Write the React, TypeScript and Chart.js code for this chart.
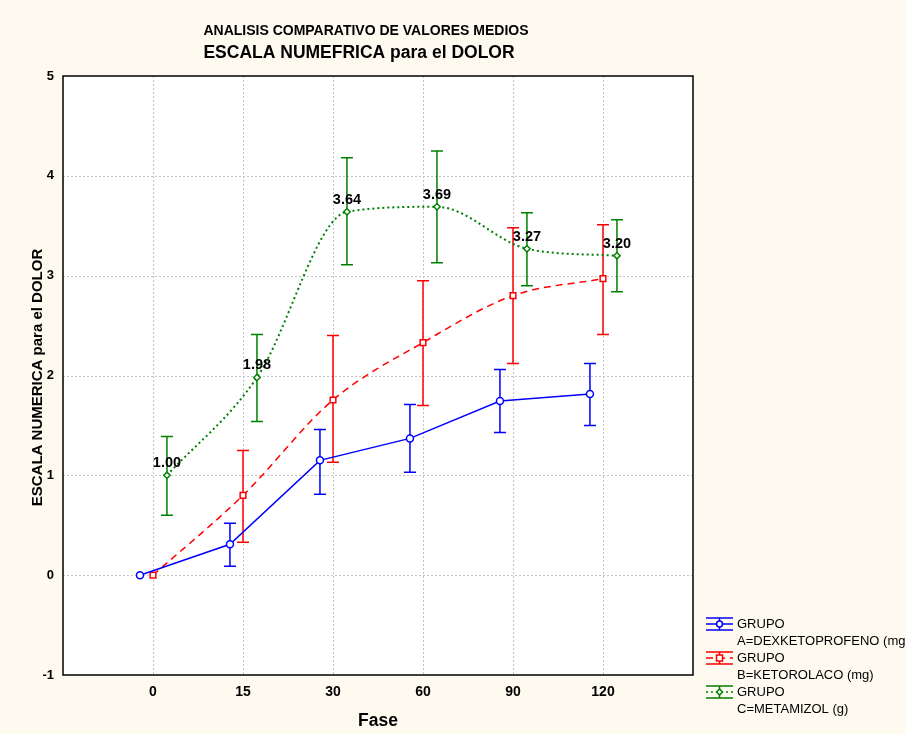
import React, { useEffect, useRef } from "react";
import { Chart, registerables } from "chart.js";

Chart.register(...registerables);

const categories = ["0", "15", "30", "60", "90", "120"];
const groupNames = ["GRUPO", "GRUPO", "GRUPO"];
const groupSubs = ["A=DEXKETOPROFENO (mg", "B=KETOROLACO (mg)", "C=METAMIZOL (g)"];

const meanA = [0, 0.31, 1.15, 1.37, 1.745, 1.815];
const lowA = [0, 0.09, 0.81, 1.03, 1.43, 1.5];
const highA = [0, 0.52, 1.46, 1.71, 2.06, 2.12];

const meanB = [0, 0.8, 1.755, 2.33, 2.8, 2.97];
const lowB = [0, 0.33, 1.13, 1.7, 2.12, 2.41];
const highB = [0, 1.25, 2.4, 2.95, 3.48, 3.51];

const meanC = [1.0, 1.98, 3.64, 3.69, 3.27, 3.2];
const lowC = [0.6, 1.54, 3.11, 3.13, 2.9, 2.84];
const highC = [1.39, 2.41, 4.18, 4.25, 3.63, 3.56];

const labelsC = ["1.00", "1.98", "3.64", "3.69", "3.27", "3.20"];

const yTicks = [-1, 0, 1, 2, 3, 4, 5];

const FONT = "'Liberation Sans', Arial, sans-serif";
const BLUE = "rgb(0,0,255)";
const RED = "rgb(255,0,0)";
const GREEN = "rgb(0,128,0)";

const offsets = [-0.145, 0, 0.155];
const colors = [BLUE, RED, GREEN];
const dashes = [[], [7, 5], [2, 3]];
const styles = ["circle", "rect", "rectRot"];
const lows = [lowA, lowB, lowC];
const highs = [highA, highB, highC];

function pts(vals: number[], off: number) {
  return vals.map((v, i) => ({ x: i + off, y: v }));
}

const drawPlugin = {
  id: "custom",
  beforeDraw(chart: any) {
    const { ctx, chartArea: a } = chart;
    ctx.save();
    ctx.fillStyle = "#FEFAEF";
    ctx.fillRect(0, 0, chart.width, chart.height);
    ctx.fillStyle = "#FFFFFF";
    ctx.fillRect(a.left, a.top, a.right - a.left, a.bottom - a.top);
    ctx.restore();
  },
  beforeDatasetsDraw(chart: any) {
    const { ctx, chartArea: a, scales } = chart;
    const xs = scales.x, ys = scales.y;
    ctx.save();
    ctx.strokeStyle = "rgb(195,195,195)";
    ctx.lineWidth = 1;
    ctx.setLineDash([2, 2]);
    yTicks.forEach((t) => {
      if (t === -1 || t === 5) return;
      const y = Math.round(ys.getPixelForValue(t)) + 0.5;
      ctx.beginPath();
      ctx.moveTo(a.left, y);
      ctx.lineTo(a.right, y);
      ctx.stroke();
    });
    categories.forEach((_, i) => {
      const x = Math.round(xs.getPixelForValue(i)) + 0.5;
      ctx.beginPath();
      ctx.moveTo(x, a.top);
      ctx.lineTo(x, a.bottom);
      ctx.stroke();
    });
    ctx.setLineDash([]);
    // error bars
    for (let d = 0; d < 3; d++) {
      ctx.strokeStyle = colors[d];
      ctx.lineWidth = 1.5;
      for (let i = 0; i < categories.length; i++) {
        if (lows[d][i] === highs[d][i]) continue;
        const x = xs.getPixelForValue(i + offsets[d]);
        const y1 = ys.getPixelForValue(lows[d][i]);
        const y2 = ys.getPixelForValue(highs[d][i]);
        ctx.beginPath();
        ctx.moveTo(x, y1);
        ctx.lineTo(x, y2);
        ctx.moveTo(x - 6, y1);
        ctx.lineTo(x + 6, y1);
        ctx.moveTo(x - 6, y2);
        ctx.lineTo(x + 6, y2);
        ctx.stroke();
      }
    }
    ctx.restore();
  },
  afterDatasetsDraw(chart: any) {
    const { ctx, chartArea: a, scales } = chart;
    const xs = scales.x, ys = scales.y;
    ctx.save();
    // box
    ctx.strokeStyle = "#000";
    ctx.lineWidth = 1.5;
    ctx.strokeRect(a.left, a.top, a.right - a.left, a.bottom - a.top);
    // data labels
    ctx.fillStyle = "#000";
    ctx.font = `bold 14.5px ${FONT}`;
    ctx.textAlign = "center";
    ctx.textBaseline = "alphabetic";
    labelsC.forEach((t, i) => {
      const x = xs.getPixelForValue(i + offsets[2]);
      const y = ys.getPixelForValue(meanC[i]);
      ctx.fillText(t, x, y - 8);
    });
    // titles
    ctx.textBaseline = "middle";
    ctx.font = `bold 14px ${FONT}`;
    ctx.fillText("ANALISIS COMPARATIVO DE VALORES MEDIOS", 366, 31);
    ctx.font = `bold 17.5px ${FONT}`;
    ctx.fillText("ESCALA NUMEFRICA para el DOLOR", 359, 53);
    // x title
    ctx.font = `bold 17.5px ${FONT}`;
    ctx.fillText("Fase", 378, 721);
    // y title
    ctx.save();
    ctx.translate(38, (a.top + a.bottom) / 2 + 2);
    ctx.rotate(-Math.PI / 2);
    ctx.font = `bold 15px ${FONT}`;
    ctx.fillText("ESCALA NUMERICA para el DOLOR", 0, 0);
    ctx.restore();
    // legend
    ctx.textAlign = "left";
    ctx.font = `13px ${FONT}`;
    for (let d = 0; d < 3; d++) {
      const cy = 624 + d * 34;
      const x0 = 706, x1 = 733, xm = 719.5;
      ctx.strokeStyle = colors[d];
      ctx.lineWidth = 1.5;
      ctx.setLineDash([]);
      ctx.beginPath();
      ctx.moveTo(x0, cy - 6);
      ctx.lineTo(x1, cy - 6);
      ctx.moveTo(x0, cy + 6);
      ctx.lineTo(x1, cy + 6);
      ctx.moveTo(xm, cy - 6);
      ctx.lineTo(xm, cy + 6);
      ctx.stroke();
      ctx.setLineDash(dashes[d]);
      ctx.beginPath();
      ctx.moveTo(x0, cy);
      ctx.lineTo(x1, cy);
      ctx.stroke();
      ctx.setLineDash([]);
      ctx.fillStyle = "#fff";
      ctx.beginPath();
      if (d === 0) {
        ctx.arc(xm, cy, 3, 0, Math.PI * 2);
      } else if (d === 1) {
        ctx.rect(xm - 3, cy - 3, 6, 6);
      } else {
        ctx.moveTo(xm, cy - 3);
        ctx.lineTo(xm + 3, cy);
        ctx.lineTo(xm, cy + 3);
        ctx.lineTo(xm - 3, cy);
        ctx.closePath();
      }
      ctx.fill();
      ctx.stroke();
      ctx.fillStyle = "#000";
      ctx.fillText(groupNames[d], 737, cy);
      ctx.fillText(groupSubs[d], 737, cy + 17);
    }
    ctx.restore();
  },
};

export default function App() {
  const ref = useRef<HTMLCanvasElement | null>(null);
  useEffect(() => {
    if (!ref.current) return;
    const mk = (vals: number[], d: number, smooth: boolean, radius: number, width: number) => ({
      label: groupSubs[d],
      data: pts(vals, offsets[d]),
      borderColor: colors[d],
      backgroundColor: "#ffffff",
      borderWidth: width,
      borderDash: dashes[d],
      tension: smooth ? 0.4 : 0,
      cubicInterpolationMode: smooth ? "monotone" : "default",
      pointStyle: styles[d],
      pointRadius: radius,
      pointBorderWidth: 1.5,
      pointBorderColor: colors[d],
      pointBackgroundColor: "#ffffff",
      fill: false,
    });
    const chart = new Chart(ref.current, {
      type: "line",
      data: {
        datasets: [
          mk(meanA, 0, false, 3.5, 1.5),
          mk(meanB, 1, true, 4, 1.5),
          mk(meanC, 2, true, 3.2, 2),
        ],
      },
      options: {
        animation: false,
        responsive: false,
        layout: { padding: { left: 0, right: 213, top: 76, bottom: 0 } },
        plugins: { legend: { display: false }, tooltip: { enabled: false }, title: { display: false } },
        scales: {
          x: {
            type: "linear",
            min: -1,
            max: 6,
            grid: { display: false, drawTicks: false },
            border: { display: false },
            afterFit: (s: any) => { s.height = 59; },
            ticks: {
              stepSize: 1,
              padding: 9,
              color: "#000",
              font: { family: FONT, size: 14, weight: "bold" },
              callback: (v: any) => (v >= 0 && v <= 5 && Number.isInteger(v) ? categories[v] : ""),
            },
          },
          y: {
            type: "linear",
            min: -1,
            max: 5,
            grid: { display: false, drawTicks: false },
            border: { display: false },
            afterFit: (s: any) => { s.width = 63; },
            ticks: {
              stepSize: 1,
              padding: 9,
              color: "#000",
              font: { family: FONT, size: 13, weight: "bold" },
            },
          },
        },
      },
      plugins: [drawPlugin],
    } as any);
    return () => chart.destroy();
  }, []);
  return (
    <div style={{ position: "absolute", left: 0, top: 0, width: 906, height: 734 }}>
      <canvas ref={ref} width={906} height={734} style={{ display: "block" }} />
    </div>
  );
}
